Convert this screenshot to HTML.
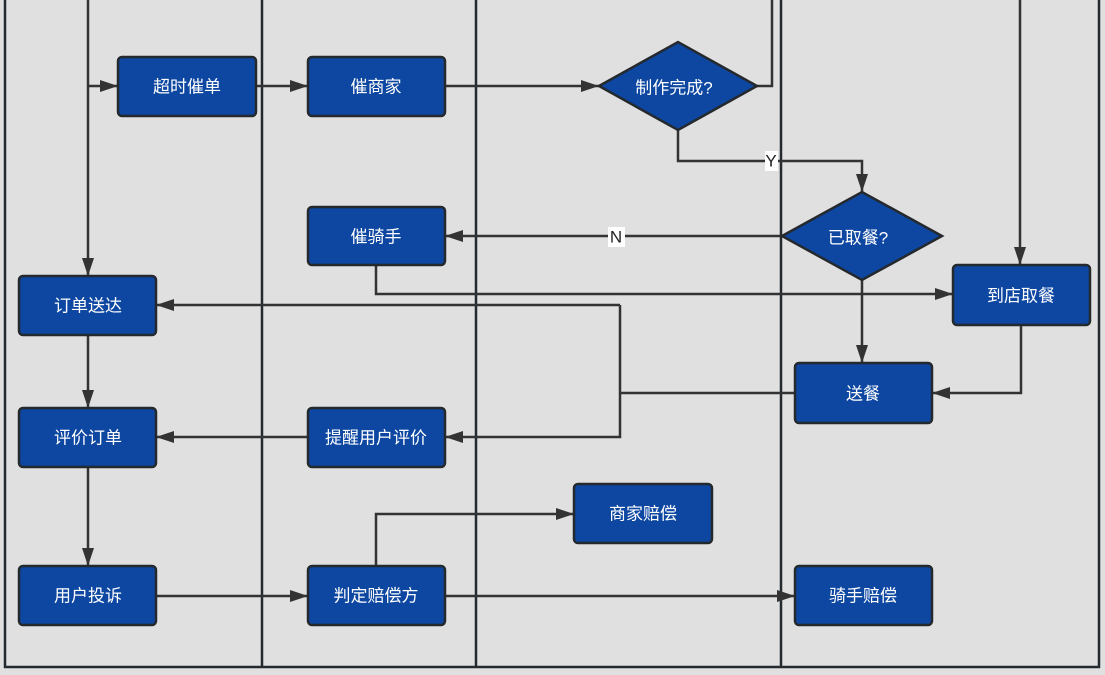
<!DOCTYPE html>
<html><head><meta charset="utf-8"><style>
html,body{margin:0;padding:0;background:#e0e0e0;}
svg{display:block;}
text{font-family:"Liberation Sans","Noto Sans CJK SC",sans-serif;font-size:17px;fill:#fff;text-anchor:middle;dominant-baseline:central;}
</style></head><body>
<svg width="1105" height="675" viewBox="0 0 1105 675" xmlns="http://www.w3.org/2000/svg">
<defs><marker id="a" markerWidth="10" markerHeight="10" refX="9" refY="5" orient="auto" markerUnits="userSpaceOnUse"><path d="M0,0 L18,5 L0,10 z" fill="#333" transform="scale(0.55,1)"/></marker>
<marker id="b" viewBox="0 0 18 12" markerWidth="18" markerHeight="12" refX="18" refY="6" orient="auto" markerUnits="userSpaceOnUse"><path d="M0,0 L18,6 L0,12 z" fill="#333"/></marker></defs>
<rect width="1105" height="675" fill="#e0e0e0"/>
<g stroke="#24292e" stroke-width="2.5" fill="none">
<line x1="5" y1="0" x2="5" y2="668"/>
<line x1="262" y1="0" x2="262" y2="668"/>
<line x1="476" y1="0" x2="476" y2="668"/>
<line x1="781" y1="0" x2="781" y2="668"/>
<line x1="1099" y1="0" x2="1099" y2="668"/>
<line x1="4" y1="667" x2="1100" y2="667"/>
</g>
<g stroke="#333" stroke-width="2.5" fill="none">
<polyline points="88,0 88,276" marker-end="url(#b)"/>
<polyline points="88,86 118,86" marker-end="url(#b)"/>
<polyline points="256,86 308,86" marker-end="url(#b)"/>
<polyline points="445,86 599,86" marker-end="url(#b)"/>
<polyline points="757,86 772,86 772,0"/>
<polyline points="678,130 678,161 862,161 862,192" marker-end="url(#b)"/>
<polyline points="782,236 445,236" marker-end="url(#b)"/>
<polyline points="376,265 376,294 953,294" marker-end="url(#b)"/>
<polyline points="862,280 862,363" marker-end="url(#b)"/>
<polyline points="1020,0 1020,265" marker-end="url(#b)"/>
<polyline points="1021,325 1021,393 932,393" marker-end="url(#b)"/>
<polyline points="795,393 620,393"/>
<polyline points="620,305 620,437 445,437" marker-end="url(#b)"/>
<polyline points="620,305 156,305" marker-end="url(#b)"/>
<polyline points="88,335 88,408" marker-end="url(#b)"/>
<polyline points="308,437 156,437" marker-end="url(#b)"/>
<polyline points="88,467 88,566" marker-end="url(#b)"/>
<polyline points="156,596 308,596" marker-end="url(#b)"/>
<polyline points="445,596 795,596" marker-end="url(#b)"/>
<polyline points="376,566 376,514 574,514" marker-end="url(#b)"/>
</g>
<rect x="765" y="151" width="13" height="20" fill="#fff"/>
<text x="771" y="161" style="fill:#222">Y</text>
<rect x="608" y="227" width="17" height="20" fill="#fff"/>
<text x="616" y="237" style="fill:#222">N</text>
<g fill="#0d47a1" stroke="#24292e" stroke-width="2.5">
<rect x="118" y="57" width="138" height="59" rx="4"/>
<rect x="308" y="57" width="137" height="59" rx="4"/>
<rect x="308" y="207" width="137" height="58" rx="4"/>
<rect x="19" y="276" width="137" height="59" rx="4"/>
<rect x="19" y="408" width="137" height="59" rx="4"/>
<rect x="308" y="408" width="137" height="59" rx="4"/>
<rect x="19" y="566" width="137" height="59" rx="4"/>
<rect x="308" y="566" width="137" height="59" rx="4"/>
<rect x="574" y="484" width="138" height="59" rx="4"/>
<rect x="795" y="566" width="137" height="59" rx="4"/>
<rect x="795" y="363" width="137" height="60" rx="4"/>
<rect x="953" y="265" width="137" height="60" rx="4"/>
<polygon points="599,86 678,42 757,86 678,130"/>
<polygon points="782,236 862,192 942,236 862,280"/>
</g>
<text x="187" y="87">超时催单</text>
<text x="376" y="87">催商家</text>
<text x="376" y="237">催骑手</text>
<text x="88" y="306">订单送达</text>
<text x="88" y="438">评价订单</text>
<text x="376" y="438">提醒用户评价</text>
<text x="88" y="596">用户投诉</text>
<text x="376" y="596">判定赔偿方</text>
<text x="643" y="514">商家赔偿</text>
<text x="863" y="596">骑手赔偿</text>
<text x="863" y="394">送餐</text>
<text x="1021" y="296">到店取餐</text>
<text x="674" y="88">制作完成?</text>
<text x="858" y="238">已取餐?</text>
</svg>
</body></html>
